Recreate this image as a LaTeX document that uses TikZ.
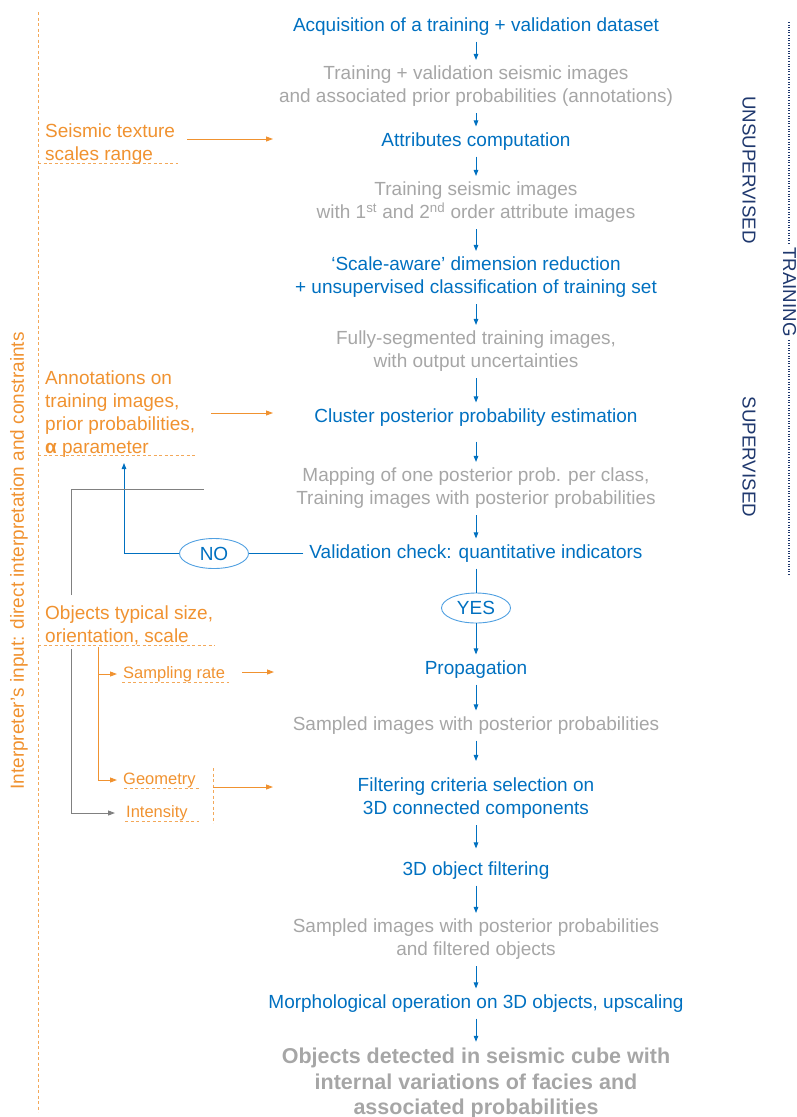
\documentclass[tikz,border=0pt]{standalone}
\usepackage{fontspec}
\setmainfont{Liberation Sans}
\usetikzlibrary{arrows.meta,shapes.geometric,calc}
\definecolor{cblue}{RGB}{0,112,192}
\definecolor{cgray}{RGB}{166,166,166}
\definecolor{corange}{RGB}{240,146,48}
\definecolor{cnavy}{RGB}{31,56,110}
\definecolor{clblue}{RGB}{80,160,225}
\definecolor{cdgray}{RGB}{128,128,128}
\tikzset{
  stepnode/.style={align=center,inner sep=6pt,yshift=-2.5pt,font=\fontsize{19}{23}\selectfont},
  bluetxt/.style={stepnode,text=cblue},
  graytxt/.style={stepnode,text=cgray},
  finaltxt/.style={stepnode,text=cgray,font=\fontsize{21.5}{25.5}\selectfont\bfseries},
  otxt/.style={anchor=west,align=left,inner sep=0pt,yshift=-2.5pt,text=corange,font=\fontsize{19}{23}\selectfont},
  osmall/.style={anchor=west,align=left,inner sep=0pt,yshift=-2pt,text=corange,font=\fontsize{16.5}{20}\selectfont},
  navytxt/.style={text=cnavy,font=\fontsize{18.7}{22}\selectfont,rotate=-90,inner sep=0pt},
  arr/.style={draw=cblue,line width=0.9pt,-{Triangle[length=6pt,width=4.5pt]}},
  bline/.style={draw=cblue,line width=0.9pt},
  oarr/.style={draw=corange,line width=0.9pt,-{Triangle[length=7pt,width=5pt]}},
  odash/.style={draw=corange!80,line width=0.9pt,dash pattern=on 3pt off 2.5pt},
  garr/.style={draw=cdgray,line width=0.9pt,-{Triangle[length=7pt,width=5pt]}},
  gline/.style={draw=cdgray,line width=0.9pt},
  oval/.style={ellipse,draw=clblue,line width=0.9pt,text=cblue,minimum width=69pt,minimum height=30pt,inner sep=0pt,font=\fontsize{19}{23}\selectfont},
  ndot/.style={draw=cnavy,line width=1.2pt,dash pattern=on 1pt off 1.6pt}
}
\begin{document}
\begin{tikzpicture}[x=1pt,y=-1pt]
\useasboundingbox (0,0) rectangle (797,1117);
% main column
\node[bluetxt] (n1) at (476,24) {Acquisition of a training + validation dataset};
\node[graytxt] (n2) at (476,84) {Training + validation seismic images\\and associated prior probabilities (annotations)};
\node[bluetxt] (n3) at (476,139) {Attributes computation};
\node[graytxt] (n4) at (476,200) {Training seismic images\\with 1\textsuperscript{st} and 2\textsuperscript{nd} order attribute images};
\node[bluetxt] (n5) at (476,275) {‘Scale-aware’ dimension reduction\\+ unsupervised classification of training set};
\node[graytxt] (n6) at (476,349) {Fully-segmented training images,\\with output uncertainties};
\node[bluetxt] (n7) at (476,415) {Cluster posterior probability estimation};
\node[graytxt] (n8) at (476,486) {Mapping of one posterior prob. per class,\\Training images with posterior probabilities};
\node[bluetxt] (n9) at (476,551) {Validation check: quantitative indicators};
\node[oval] (yes) at (476,608) {YES};
\node[oval] (no) at (214,553.5) {NO};
\node[bluetxt] (n10) at (476,667) {Propagation};
\node[graytxt] (n11) at (476,723) {Sampled images with posterior probabilities};
\node[bluetxt] (n12) at (476,796) {Filtering criteria selection on\\3D connected components};
\node[bluetxt] (n13) at (476,868) {3D object filtering};
\node[graytxt] (n14) at (476,937) {Sampled images with posterior probabilities\\and filtered objects};
\node[bluetxt] (n15) at (476,1001) {Morphological operation on 3D objects, upscaling};
\node[finaltxt] (n16) at (476,1081) {Objects detected in seismic cube with\\internal variations of facies and\\associated probabilities};
% main arrows
\draw[arr] (n1) -- (n2);
\draw[arr] (n2) -- (n3);
\draw[arr] (n3) -- (n4);
\draw[arr] (n4) -- (n5);
\draw[arr] (n5) -- (n6);
\draw[arr] (n6) -- (n7);
\draw[arr,shorten <=9pt] (n7) -- (n8);
\draw[arr] (n8) -- (n9);
\draw[bline] (n9) -- (yes);
\draw[arr] (yes) -- (n10);
\draw[arr] (n10) -- (n11);
\draw[arr,shorten >=11pt] (n11) -- (n12);
\draw[arr,shorten >=7pt] (n12) -- (n13);
\draw[arr] (n13) -- (n14);
\draw[arr] (n14) -- (n15);
\draw[arr] (n15) -- (n16);
% NO loop
\coordinate (notip) at (124,463);
\draw[bline] (n9.west) -- (no.east);
\draw[arr] (no.west) -| (notip);
% left interpreter band
\draw[odash] (38,12) -- (38,1112);
\node[text=corange,font=\fontsize{19}{23}\selectfont,rotate=90,inner sep=0pt] (interp) at (19,561) {Interpreter’s input: direct interpretation and constraints};
% seismic texture
\node[otxt] (tex) at (45,141.5) {Seismic texture\\scales range};
\draw[odash] (38,163) -- (178,163);
\coordinate (texs) at (187,139);
\coordinate (texe) at (273,139);
\draw[oarr] (texs) -- (texe);
% annotations
\node[otxt] (ann) at (45,411.5) {Annotations on\\training images,\\prior probabilities,\\\textbf{α} parameter};
\draw[odash] (38,455) -- (196,455);
\coordinate (anns) at (211,413);
\coordinate (anne) at (273,413);
\draw[oarr] (anns) -- (anne);
% objects typical size
\node[otxt] (obj) at (45,623) {Objects typical size,\\orientation, scale};
\draw[odash] (38,645) -- (215,645);
\coordinate (g1) at (71,595);
\coordinate (g2) at (71,489);
\coordinate (g3) at (204,489);
\draw[gline] (g1) -- (g2) -- (g3);
% sub items
\node[osmall] (samp) at (123,672) {Sampling rate};
\draw[odash] (122,682.5) -- (229,682.5);
\node[osmall] (geom) at (123,778) {Geometry};
\draw[odash] (124,788) -- (199,788);
\node[osmall] (inten) at (126,811) {Intensity};
\draw[odash] (125,821.5) -- (199,821.5);
\coordinate (ob1) at (98,647);
\draw[oarr,shorten >=6pt] (ob1) |- (samp.west);
\draw[oarr,shorten >=6pt] (98,660) |- (geom.west);
\coordinate (gb) at (71,649);
\draw[garr,shorten >=11pt] (gb) |- (inten.west);
\coordinate (samps) at (242,672);
\coordinate (sampe) at (274,672);
\draw[oarr] (samps) -- (sampe);
\draw[odash] (213,768) -- (213,823);
\coordinate (gis) at (213,787);
\coordinate (gie) at (273,787);
\draw[oarr] (gis) -- (gie);
% right side labels
\node[navytxt] (uns) at (749,170) {UNSUPERVISED};
\node[navytxt] (sup) at (749,457) {SUPERVISED};
\node[navytxt] (tr) at (789.5,292) {TRAINING};
\draw[ndot] (789,22) -- (789,245);
\draw[ndot] (789,340) -- (789,575);
\end{tikzpicture}
\end{document}
